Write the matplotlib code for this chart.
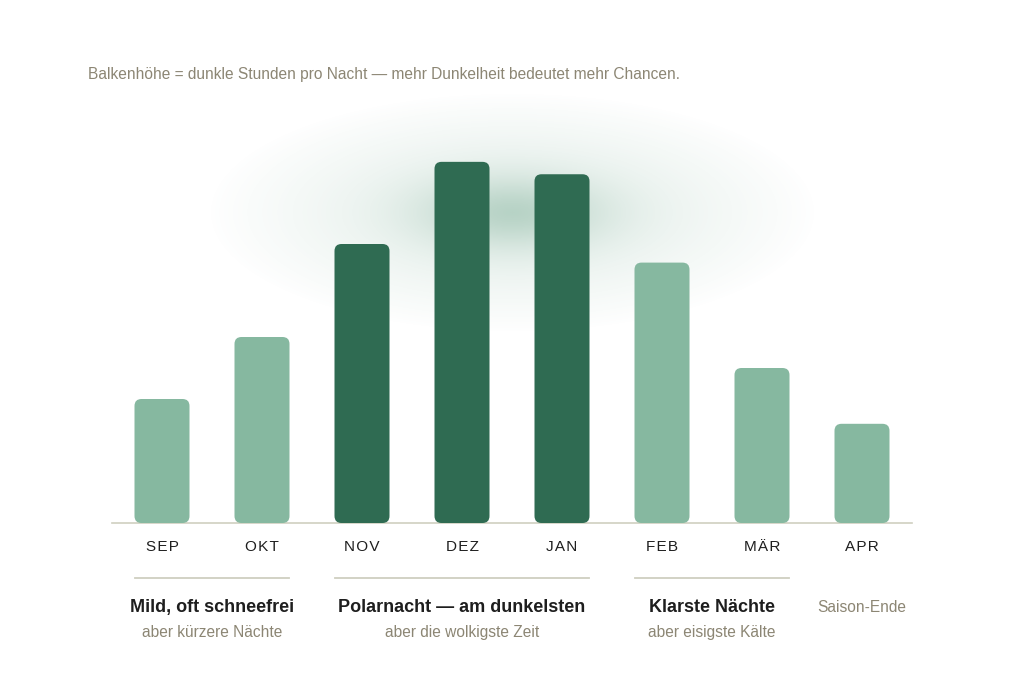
import numpy as np
import matplotlib
matplotlib.use("Agg")
import matplotlib.pyplot as plt
from matplotlib.patches import FancyBboxPatch

plt.rcParams['font.family'] = ['Liberation Sans', 'DejaVu Sans']

# dunkle Stunden pro Nacht (aus dem Bild geschätzt)
months = ['SEP', 'OKT', 'NOV', 'DEZ', 'JAN', 'FEB', 'MÄR', 'APR']
dark_hours = [8.0, 12.0, 18.0, 23.3, 22.5, 16.8, 10.0, 6.4]
polar = [False, False, True, True, True, False, False, False]

# Gruppen: (erster Monat, letzter Monat, Titel, Untertitel)
groups = [
    (0, 1, 'Mild, oft schneefrei', 'aber kürzere Nächte'),
    (2, 4, 'Polarnacht — am dunkelsten', 'aber die wolkigste Zeit'),
    (5, 6, 'Klarste Nächte', 'aber eisigste Kälte'),
]
season_end = (7, 'Saison-Ende')

subtitle = 'Balkenhöhe = dunkle Stunden pro Nacht — mehr Dunkelheit bedeutet mehr Chancen.'

LIGHT = '#86b8a0'
DARK = '#2f6b52'
MUTED = '#8c8674'
INK = '#1e1e1e'
RULE = '#cfcfc0'

W, H = 1024, 700
fig = plt.figure(figsize=(W / 100, H / 100), dpi=100)
fig.patch.set_facecolor('white')

# Hintergrund-Achse in Pixeln für Glow und Texte
bg = fig.add_axes([0, 0, 1, 1])
bg.set_xlim(0, W)
bg.set_ylim(H, 0)
bg.axis('off')

gx, gy = np.meshgrid(np.arange(W), np.arange(H))
r = np.sqrt(((gx - 512) / 305.0) ** 2 + ((gy - 212) / 120.0) ** 2)
alpha = 0.28 * np.exp(-(r / 0.3) ** 2) + 0.22 * np.clip(1 - r, 0, 1) ** 0.9
glow = np.zeros((H, W, 4))
glow[..., 0] = 0x6f / 255
glow[..., 1] = 0xa6 / 255
glow[..., 2] = 0x8c / 255
glow[..., 3] = np.clip(alpha, 0, 1)
bg.imshow(glow, extent=(0, W, H, 0), zorder=0, interpolation='bilinear')

# Balken-Achse: Monat i bei x = 162 + 100*i px, Basislinie bei y = 523 px
px_per_hour = 15.5
ymax = 24
ax_left, ax_right = 112, 912
ax_bottom = 523
ax_top = ax_bottom - ymax * px_per_hour
ax = fig.add_axes([ax_left / W, (H - ax_bottom) / H,
                   (ax_right - ax_left) / W, (ax_bottom - ax_top) / H])
ax.set_xlim(-0.5, len(months) - 0.5)
ax.set_ylim(0, ymax)
ax.axis('off')
ax.patch.set_alpha(0)

bar_w = 0.55
for i, (m, v, p) in enumerate(zip(months, dark_hours, polar)):
    box = FancyBboxPatch((i - bar_w / 2, 0), bar_w, v,
                         boxstyle='round,pad=0,rounding_size=0.07',
                         mutation_aspect=100 / px_per_hour,
                         facecolor=DARK if p else LIGHT, edgecolor='none', zorder=3)
    ax.add_patch(box)

ax.axhline(0, color=RULE, lw=1.2, zorder=2, clip_on=False)

# Texte
bg.text(88, 75, subtitle, fontsize=11.2, color=MUTED, ha='left', va='center')

def xpix(i):
    return 162 + 100 * i

for i, m in enumerate(months):
    bg.text(xpix(i), 547, '\u200a'.join(m), fontsize=11, color=INK,
            ha='center', va='center')

for a, b, title, sub in groups:
    bg.plot([xpix(a) - 27, xpix(b) + 27], [578, 578], color=RULE, lw=1.3)
    cx = (xpix(a) + xpix(b)) / 2
    bg.text(cx, 607.5, title, fontsize=13, fontweight='bold', color=INK,
            ha='center', va='center')
    bg.text(cx, 632.5, sub, fontsize=11.2, color=MUTED, ha='center', va='center')

bg.text(xpix(season_end[0]), 607.5, season_end[1], fontsize=11.2, color=MUTED,
        ha='center', va='center')

fig.savefig('out.png', dpi=100, facecolor='white')
